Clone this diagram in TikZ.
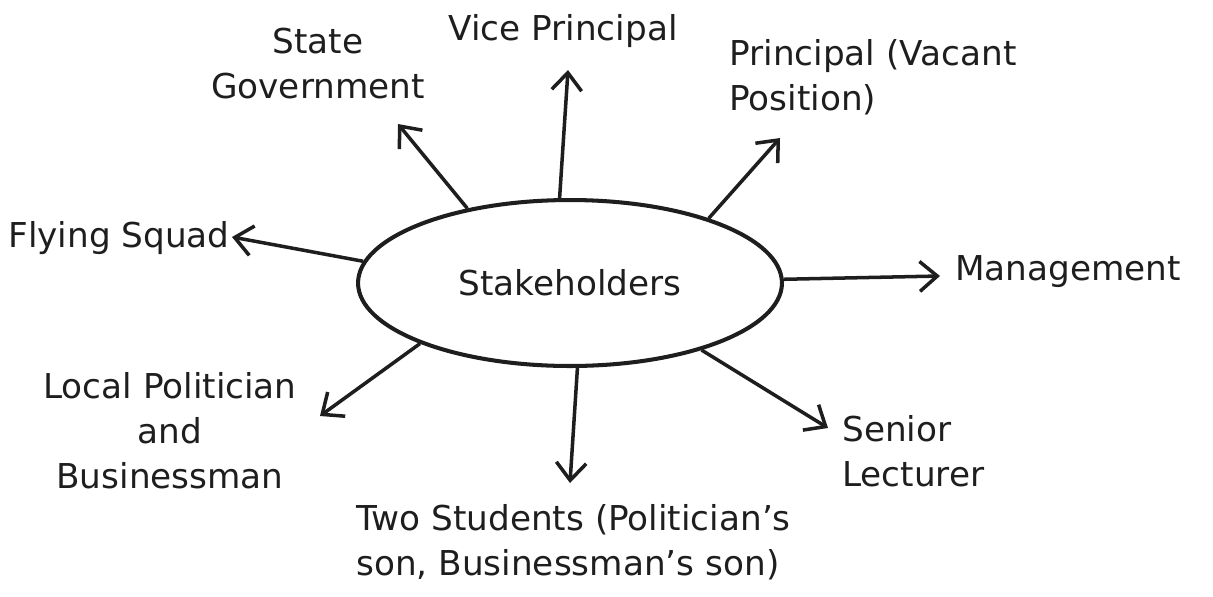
\documentclass[tikz,border=0pt]{standalone}
\usepackage{fontspec}
\setmainfont{DejaVu Sans}
\usetikzlibrary{shapes.geometric,arrows.meta}
\definecolor{ink}{HTML}{1E1E1E}

\begin{document}
\begin{tikzpicture}[x=0.02cm,y=-0.02cm,
        lbl/.style={font=\fontsize{19.5}{25.6}\selectfont,inner sep=0pt,text=ink},
        link/.style={draw=ink,line width=2pt,-{Straight Barb[length=10pt,width=17pt,line width=2pt]}},
        hubshape/.style={ellipse,draw=ink,line width=2.3pt,minimum width=8.48cm,minimum height=3.32cm}]
    \useasboundingbox (0,0) rectangle (1213,596);

    \node[hubshape,lbl] (hub) at (570,283) {Stakeholders};

    \node[lbl,align=center] (stategov)  at (318,64)  {State\\Government};
    \node[lbl]              (vice)      at (563,31)  {Vice Principal};
    \node[lbl,align=left,anchor=west] (principal) at (729,77) {Principal (Vacant\\Position)};
    \node[lbl]              (squad)     at (119,238) {Flying Squad};
    \node[lbl,anchor=west]  (mgmt)      at (955,272) {Management};
    \node[lbl,align=center] (local)     at (170,431) {Local Politician\\and\\Businessman};
    \node[lbl,align=left,anchor=west] (senior) at (842,451) {Senior\\Lecturer};
    \node[lbl,align=left,anchor=west] (students) at (356,542) {Two Students (Politician's\\son, Businessman's son)};

    % arrow tips
    \coordinate (stategov-tip)  at (398,124);
    \coordinate (vice-tip)      at (568,70);
    \coordinate (principal-tip) at (780,138);
    \coordinate (squad-tip)     at (232,237);
    \coordinate (mgmt-tip)      at (940,276);
    \coordinate (local-tip)     at (320,416);
    \coordinate (senior-tip)    at (828,428);
    \coordinate (students-tip)  at (570,483);

    \draw[link] (hub.144) -- (stategov-tip);
    \draw[link] (hub.97)  -- (vice-tip);
    \draw[link] (hub.25)  -- (principal-tip);
    \draw[link] (hub.174) -- (squad-tip);
    \draw[link] (hub.1)   -- (mgmt-tip);
    \draw[link] (hub.202) -- (local-tip);
    \draw[link] (hub.333) -- (senior-tip);
    \draw[link] (hub.275) -- (students-tip);
\end{tikzpicture}
\end{document}
